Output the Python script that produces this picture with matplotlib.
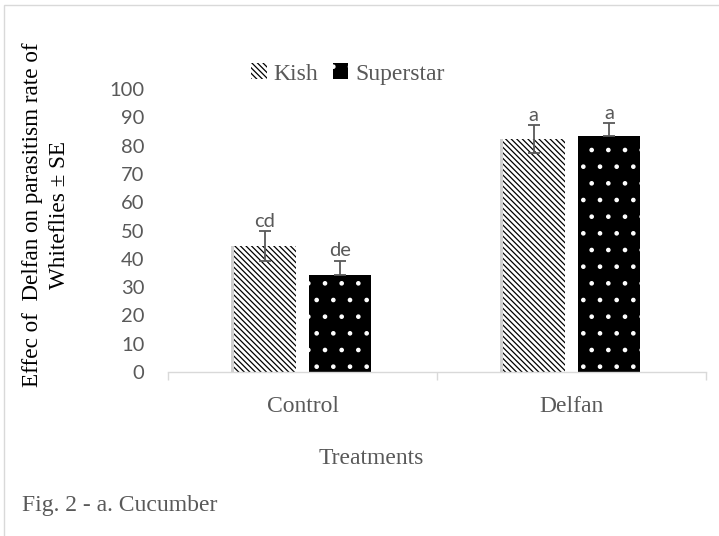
import numpy as np
import matplotlib.pyplot as plt
from matplotlib.patches import Rectangle

treatments = ['Control', 'Delfan']
kish = [44.5, 82.3]
kish_se = [5.2, 4.9]
superstar = [34.3, 83.4]
superstar_se = [5.0, 4.6]
kish_letters = ['cd', 'a']
superstar_letters = ['de', 'a']
y_ticks = list(range(0, 101, 10))

GRAY = '#595959'
SERIF = 'Liberation Serif'
SANS = 'Lato'

W, H = 719, 536
fig = plt.figure(figsize=(W / 100, H / 100), dpi=100)
ax = fig.add_axes([168 / W, 1 - 372 / H, (706 - 168) / W, (372 - 89) / H])

x = np.arange(len(treatments))
width = 0.23
off = 0.141

plt.rcParams['hatch.linewidth'] = 0.9

# soft shadow behind the hatched bars
ax.bar(x - off - 0.004, kish, width + 0.012, color='#d0d0d0', zorder=1)
b1 = ax.bar(x - off, kish, width, color='white', edgecolor='black', hatch='\\\\\\\\\\\\',
            linewidth=0, label='Kish', zorder=2)
b2 = ax.bar(x + off, superstar, width, color='black', edgecolor='white', hatch='.',
            linewidth=0, label='Superstar', zorder=2)

ax.errorbar(x - off, kish, yerr=kish_se, fmt='none', ecolor=GRAY, elinewidth=1.3,
            capsize=4.5, capthick=1.3, zorder=3)
# lower half of these disappears into the black bar
ax.errorbar(x + off, superstar, yerr=[[0] * len(superstar_se), superstar_se], fmt='none',
            ecolor=GRAY, elinewidth=1.3, capsize=4.5, capthick=1.3, zorder=3)

for xi, v, se, lab in zip(x - off, kish, kish_se, kish_letters):
    ax.annotate(lab, (xi, v + se), xytext=(0, 1), textcoords='offset points',
                ha='center', va='bottom', fontsize=14.5, family=SANS, color=GRAY)
for xi, v, se, lab in zip(x + off, superstar, superstar_se, superstar_letters):
    ax.annotate(lab, (xi, v + se), xytext=(0, 1), textcoords='offset points',
                ha='center', va='bottom', fontsize=14.5, family=SANS, color=GRAY)

ax.set_xlim(-0.5, 1.5)
ax.set_ylim(0, 100)
ax.set_yticks(y_ticks)
ax.set_yticklabels([str(t) for t in y_ticks], family=SANS, fontsize=14.5, color=GRAY)
ax.tick_params(axis='y', length=0, pad=17)

ax.set_xticks(x)
ax.set_xticklabels(treatments, family=SERIF, fontsize=17, color=GRAY)
ax.set_xticks([-0.5, 0.5, 1.5], minor=True)
ax.tick_params(axis='x', which='major', length=0, pad=17)
ax.tick_params(axis='x', which='minor', length=6, color='#d9d9d9', width=1)

for s in ['top', 'right', 'left']:
    ax.spines[s].set_visible(False)
ax.spines['bottom'].set_color('#d9d9d9')
ax.spines['bottom'].set_linewidth(1)

fig.legend(handles=[b1, b2], loc='center', bbox_to_anchor=(348 / W, 1 - 74 / H),
           ncol=2, frameon=False, handlelength=0.65, handleheight=0.65,
           handletextpad=0.3, columnspacing=0.6,
           prop={'family': SERIF, 'size': 17}, labelcolor=GRAY)

fig.text(46 / W, 1 - 215 / H, 'Effec of  Delfan on parasitism rate of\nWhiteflies \u00b1 SE',
         rotation=90, ha='center', va='center', multialignment='center',
         family=SERIF, fontsize=16.7, color='black', linespacing=1.35)
fig.text(371 / W, 1 - 458 / H, 'Treatments', ha='center', va='center',
         family=SERIF, fontsize=17, color=GRAY)
fig.text(22 / W, 1 - 506 / H, 'Fig. 2 - a. Cucumber', ha='left', va='center',
         family=SERIF, fontsize=17, color=GRAY)

fig.patches.append(Rectangle((4 / W, -0.1), 1.1, 1 - 5 / H + 0.1, transform=fig.transFigure,
                             fill=False, edgecolor='#d9d9d9', linewidth=1))

fig.savefig('out.png', dpi=100)
